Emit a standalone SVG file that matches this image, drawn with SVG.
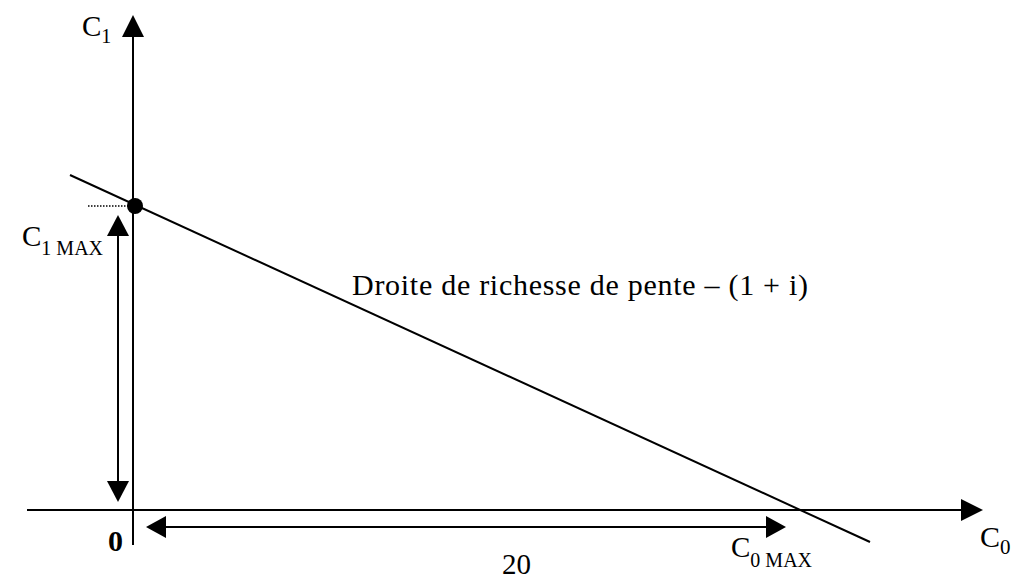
<svg xmlns="http://www.w3.org/2000/svg" width="1016" height="578" viewBox="0 0 1016 578">
<style>
.ln{stroke:#000;stroke-width:2;fill:none}
.hd{fill:#000}
text{font-family:'Liberation Serif','Times New Roman','DejaVu Serif',serif;fill:#000}
</style>
<rect width="1016" height="578" fill="#fff"/>
<g id="connectors">
<line class="ln" x1="133" y1="545" x2="133" y2="34"/>
<polygon class="hd" points="133,15 122,37 144,37"/>
<line class="ln" x1="27" y1="510" x2="964" y2="510"/>
<polygon class="hd" points="983,510 961,499 961,521"/>
<line class="ln" x1="70" y1="175" x2="870" y2="542"/>
<line x1="88" y1="206" x2="128" y2="206" stroke="#000" stroke-width="1.5" stroke-dasharray="1.5,1.5"/>
<line class="ln" x1="118" y1="234" x2="118" y2="483"/>
<polygon class="hd" points="118,215 107,236 129,236"/>
<polygon class="hd" points="118,502 107,481 129,481"/>
<line class="ln" x1="164" y1="527" x2="768" y2="527"/>
<polygon class="hd" points="146,527 166,516 166,538"/>
<polygon class="hd" points="786,527 766,516 766,538"/>
</g>
<g id="point"><circle cx="135" cy="206" r="8" fill="#000"/></g>
<g id="labels">
<text font-family="Liberation Serif, serif" x="82" y="36" font-size="29">C<tspan font-size="20" dy="7">1</tspan></text>
<text font-family="Liberation Serif, serif" x="22" y="246" font-size="29">C<tspan font-size="20" dy="9">1 MAX</tspan></text>
<text font-family="Liberation Serif, serif" x="108" y="551" font-size="30" font-weight="bold">0</text>
<text font-family="Liberation Serif, serif" x="502" y="574" font-size="29">20</text>
<text font-family="Liberation Serif, serif" x="731" y="557" font-size="29">C<tspan font-size="20" dy="10">0 MAX</tspan></text>
<text font-family="Liberation Serif, serif" x="980" y="547" font-size="30">C<tspan font-size="21" dy="7">0</tspan></text>
<text font-family="Liberation Serif, serif" x="352" y="295" font-size="30" textLength="456">Droite de richesse de pente – (1 + i)</text>
</g>
</svg>
